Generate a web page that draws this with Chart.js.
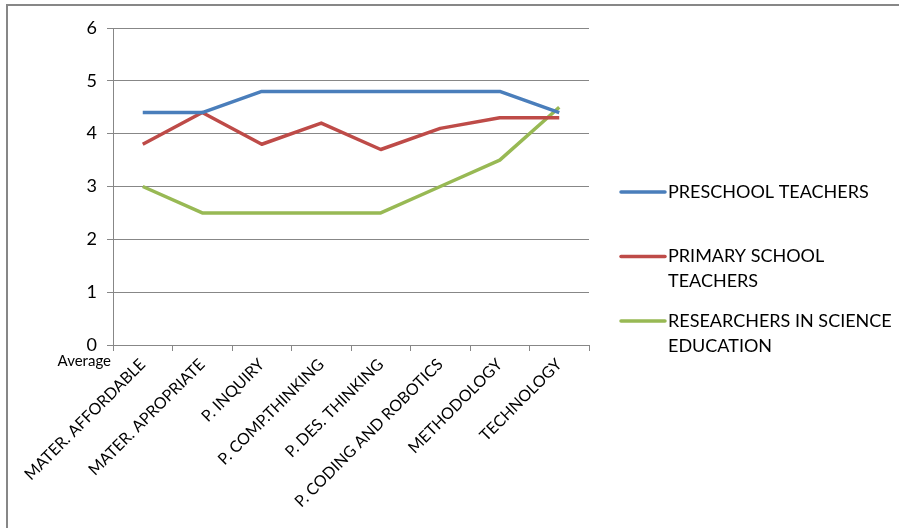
<!DOCTYPE html>
<html>
<head>
<meta charset="utf-8">
<script src="https://cdn.jsdelivr.net/npm/chart.js@4.4.0/dist/chart.umd.min.js"></script>
<style>
html,body{margin:0;padding:0;background:#fff;}
#wrap{width:899px;height:528px;position:relative;}
</style>
</head>
<body>
<div id="wrap"><canvas id="c" width="899" height="528"></canvas></div>
<script>
const categories = ["MATER. AFFORDABLE","MATER. APROPRIATE","P. INQUIRY","P. COMP.THINKING","P. DES. THINKING","P. CODING AND ROBOTICS","METHODOLOGY","TECHNOLOGY"];
const preschool = [4.4,4.4,4.8,4.8,4.8,4.8,4.8,4.4];
const primary = [3.8,4.4,3.8,4.2,3.7,4.1,4.3,4.3];
const researchers = [3.0,2.5,2.5,2.5,2.5,3.0,3.5,4.5];
const seriesNames = ["PRESCHOOL TEACHERS","PRIMARY SCHOOL TEACHERS","RESEARCHERS IN SCIENCE EDUCATION"];
const yTicks = [0,1,2,3,4,5,6];
const axisGroupLabel = "Average";

const FONT = "Lato, 'Open Sans', sans-serif";

const framePlugin = {
  id: 'frame',
  beforeDraw(chart) {
    const ctx = chart.ctx;
    ctx.save();
    ctx.fillStyle = '#fff';
    ctx.fillRect(0,0,chart.width,chart.height);
    ctx.strokeStyle = '#878787';
    ctx.lineWidth = 2;
    ctx.beginPath();
    ctx.moveTo(7, chart.height);
    ctx.lineTo(7, 5);
    ctx.lineTo(chart.width, 5);
    ctx.stroke();
    ctx.restore();
  },
  afterDraw(chart) {
    const ctx = chart.ctx;
    const area = chart.chartArea;
    ctx.save();
    ctx.font = "15px " + FONT;
    ctx.fillStyle = '#000';
    ctx.textAlign = 'right';
    ctx.textBaseline = 'middle';
    ctx.fillText(axisGroupLabel, area.left - 2, area.bottom + 16);
    const lx0 = area.right + 32, lx1 = area.right + 76, tx = area.right + 79;
    const maxW = chart.width - tx - 4;
    ctx.font = "18px " + FONT;
    ctx.textAlign = 'left';
    let y = 192;
    chart.data.datasets.forEach((ds) => {
      const words = ds.label.split(' ');
      const lines = [];
      let cur = '';
      words.forEach(w => {
        const t = cur ? cur + ' ' + w : w;
        if (ctx.measureText(t).width > maxW && cur) { lines.push(cur); cur = w; }
        else cur = t;
      });
      if (cur) lines.push(cur);
      ctx.strokeStyle = ds.borderColor;
      ctx.lineWidth = 3.5;
      ctx.lineCap = 'round';
      ctx.beginPath();
      ctx.moveTo(lx0, y);
      ctx.lineTo(lx1, y);
      ctx.stroke();
      ctx.fillStyle = '#000';
      lines.forEach((ln, i) => ctx.fillText(ln, tx, y + i * 25));
      y += 64.5;
    });
    ctx.restore();
  }
};

const colors = ['#4a7ebb','#be4b48','#98b954'];

new Chart(document.getElementById('c'), {
  type: 'line',
  data: {
    labels: categories,
    datasets: [
      {label: seriesNames[0], data: preschool, borderColor: colors[0], backgroundColor: colors[0]},
      {label: seriesNames[1], data: primary, borderColor: colors[1], backgroundColor: colors[1]},
      {label: seriesNames[2], data: researchers, borderColor: colors[2], backgroundColor: colors[2]}
    ].map(d => Object.assign(d, {borderWidth: 3.5, pointRadius: 0, pointHoverRadius: 0, tension: 0, fill: false, borderJoinStyle: 'round'}))
  },
  options: {
    responsive: false,
    animation: false,
    layout: {padding: {left: 20, right: 310, top: 28, bottom: 0}},
    plugins: {legend: {display: false}, tooltip: {enabled: false}},
    scales: {
      x: {
        offset: true,
        grid: {offset: true, drawOnChartArea: false, drawTicks: true, tickLength: 6, color: '#878787'},
        border: {color: '#878787', width: 1},
        ticks: {autoSkip: false, minRotation: 45, maxRotation: 45, padding: 4, color: '#000', font: {family: FONT, size: 16}},
        afterFit(s) { s.height = 183; }
      },
      y: {
        min: 0, max: 6,
        afterBuildTicks(s) { s.ticks = yTicks.map(v => ({value: v})); },
        grid: {color: '#878787', drawTicks: true, tickLength: 6},
        border: {color: '#878787', width: 1},
        ticks: {padding: 10, color: '#000', font: {family: FONT, size: 18}},
        afterFit(s) { s.width = 93; }
      }
    }
  },
  plugins: [framePlugin]
});
</script>
</body>
</html>
